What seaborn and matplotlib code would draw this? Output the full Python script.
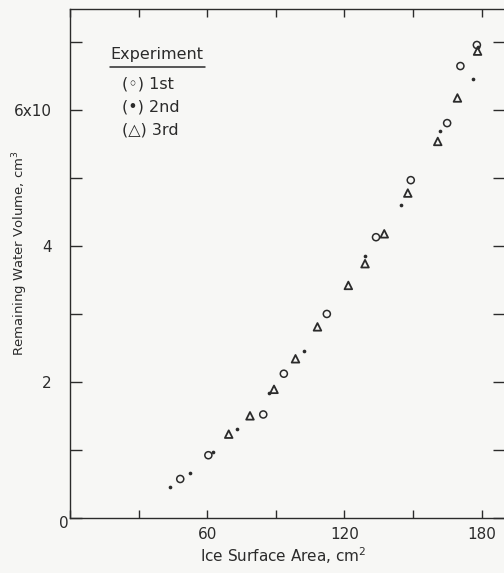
import numpy as np
import pandas as pd
import matplotlib
matplotlib.use('Agg')
import matplotlib.pyplot as plt
from matplotlib.lines import Line2D
import seaborn as sns

# Experiment data (x: ice surface area cm^2, y: remaining water volume in units of 10 cm^3)
exp1_x = [48.2, 60.5, 84.5, 93.5, 112.3, 133.8, 149.0, 164.9, 170.7, 177.9]
exp1_y = [0.57, 0.92, 1.52, 2.12, 3.00, 4.13, 4.97, 5.81, 6.65, 6.96]
exp2_x = [43.7, 52.3, 62.7, 73.2, 87.2, 102.2, 129.2, 144.8, 161.8, 176.3, 178.3]
exp2_y = [0.45, 0.66, 0.97, 1.31, 1.84, 2.46, 3.86, 4.60, 5.70, 6.46, 6.93]
exp3_x = [69.4, 78.7, 89.2, 98.6, 108.2, 121.7, 129.0, 137.4, 147.7, 160.8, 169.4, 178.2]
exp3_y = [1.23, 1.50, 1.89, 2.34, 2.81, 3.42, 3.74, 4.18, 4.78, 5.54, 6.18, 6.87]

x_ticks = [0, 30, 60, 90, 120, 150, 180]
x_tick_labels = ['', '', '60', '', '120', '', '180']
y_ticks = [0, 1, 2, 3, 4, 5, 6, 7]
y_tick_labels = ['', '', '2', '', '4', '', '6x10', '']
legend_title = 'Experiment'
legend_entries = ['(\u25e6) 1st', '(\u2022) 2nd', '(\u25b3) 3rd']

sns.set_style('white')
plt.rcParams['font.family'] = ['DejaVu Sans']

ink = '#2b2b2b'
bg = '#f7f7f5'

W, H = 504, 573
fig = plt.figure(figsize=(W / 100, H / 100), dpi=100, facecolor=bg)
left_px, right_px, top_px, bottom_px = 70, 505, 9, 517.7
ax = fig.add_axes([left_px / W, 1 - bottom_px / H, (right_px - left_px) / W, (bottom_px - top_px) / H])
ax.set_facecolor(bg)

df1 = pd.DataFrame({'x': exp1_x, 'y': exp1_y})
df2 = pd.DataFrame({'x': exp2_x, 'y': exp2_y})
df3 = pd.DataFrame({'x': exp3_x, 'y': exp3_y})

sns.scatterplot(data=df1, x='x', y='y', marker='o', s=26, color=ink, linewidth=1.1, ax=ax, zorder=3)
ax.collections[-1].set_facecolor('none')
ax.collections[-1].set_edgecolor(ink)
sns.scatterplot(data=df2, x='x', y='y', marker='o', s=7, color=ink, linewidth=0, ax=ax, zorder=3)
sns.scatterplot(data=df3, x='x', y='y', marker='^', s=30, color=ink, linewidth=1.3, ax=ax, zorder=3)
ax.collections[-1].set_facecolor('none')
ax.collections[-1].set_edgecolor(ink)

ax.set_xlim(0, 190.2)
ax.set_ylim(0, 7.49)
ax.set_xticks(x_ticks)
ax.set_xticklabels(x_tick_labels)
ax.set_yticks(y_ticks)
ax.set_yticklabels(y_tick_labels)
ax.set_xlabel('')
ax.set_ylabel('')

for s in ax.spines.values():
    s.set_color(ink)
    s.set_linewidth(1.0)
    s.set_visible(True)

ax.tick_params(axis='x', direction='in', length=6, width=1.0, color=ink, labelcolor=ink,
               labelsize=11, pad=7, top=True, bottom=True)
ax.tick_params(axis='y', direction='in', length=8.5, width=1.0, color=ink, labelcolor=ink,
               labelsize=11, pad=13, left=True, right=True)

# corner zero
fig.text(64 / W, 1 - 523 / H, '0', ha='center', va='center', fontsize=11, color=ink)

# axis labels
fig.text(283 / W, 1 - 556 / H, 'Ice Surface Area, cm$^2$', ha='center', va='center',
         fontsize=11, color=ink)
fig.text(20 / W, 1 - 253 / H, 'Remaining Water Volume, cm$^3$', ha='center', va='center',
         rotation=90, fontsize=9.5, color=ink)

# legend block
fig.text(110 / W, 1 - 55 / H, legend_title, ha='left', va='center', fontsize=11.5, color=ink)
fig.add_artist(Line2D([110 / W, 205 / W], [1 - 66.5 / H, 1 - 66.5 / H], color=ink, lw=1.1))
for i, lab in enumerate(legend_entries):
    fig.text(122 / W, 1 - (83.5 + 23.5 * i) / H, lab, ha='left', va='center', fontsize=11.5, color=ink)

fig.savefig('out.png', dpi=100, facecolor=bg)
